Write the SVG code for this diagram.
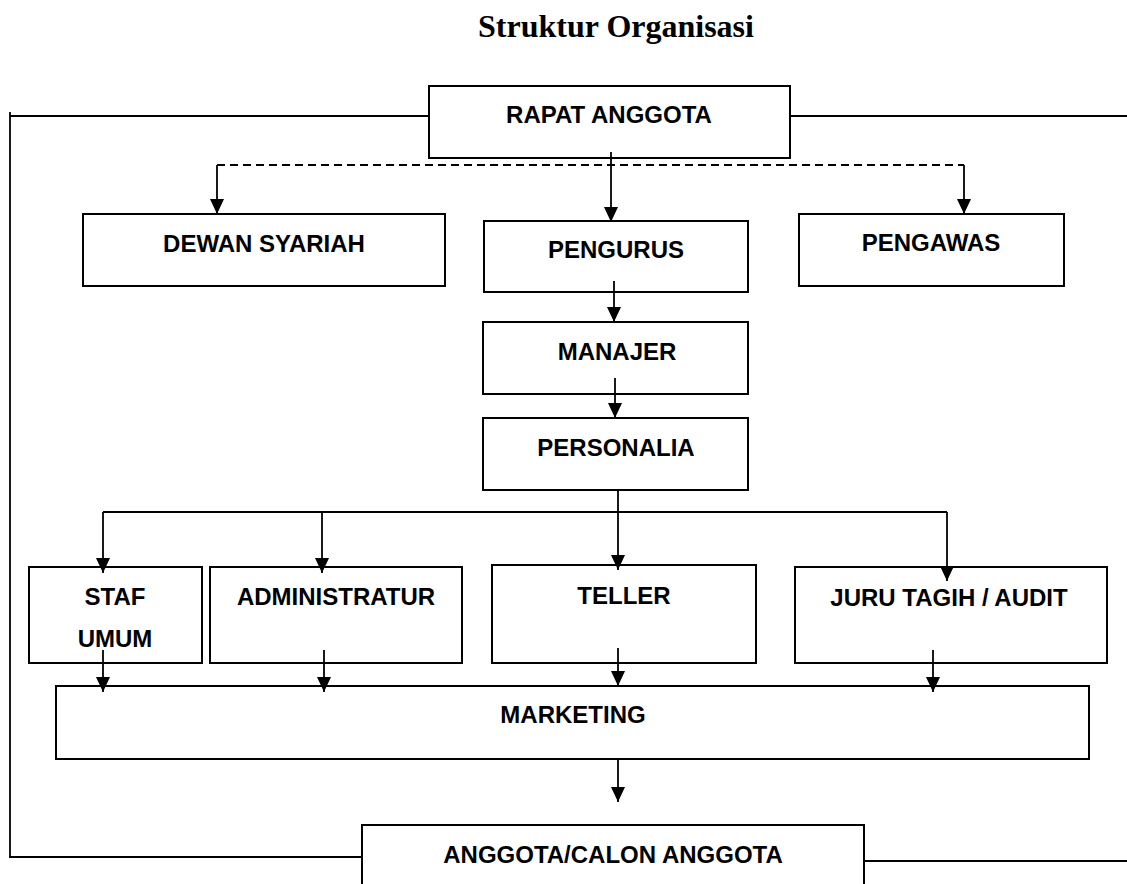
<svg xmlns="http://www.w3.org/2000/svg" width="1127" height="884" viewBox="0 0 1127 884">
<style>
.box{fill:#fff;stroke:#000;stroke-width:2}
.lbl{font-family:"Liberation Sans",Arial,sans-serif;font-weight:bold;font-size:24px;fill:#000;text-anchor:middle}
.ttl{font-family:"Liberation Serif","Times New Roman",serif;font-weight:bold;font-size:32px;fill:#000;text-anchor:middle}
.ln{fill:none;stroke:#000;stroke-width:1.8}
.arr{fill:none;stroke:#000;stroke-width:1.8;marker-end:url(#ah)}
.dash{fill:none;stroke:#000;stroke-width:1.8;stroke-dasharray:8 5}
</style>
<defs>
<marker id="ah" markerUnits="userSpaceOnUse" markerWidth="15" markerHeight="14" refX="15" refY="7" orient="auto">
<path d="M0,0 L15,7 L0,14 z" fill="#000"/>
</marker>
</defs>
<rect width="1127" height="884" fill="#fff"/>
<text class="ttl" x="616" y="37">Struktur Organisasi</text>

<g id="rapat-anggota"><rect class="box" x="429" y="86" width="361" height="72"/><text class="lbl" x="609" y="123">RAPAT ANGGOTA</text></g>
<g id="dewan-syariah"><rect class="box" x="83" y="214" width="362" height="72"/><text class="lbl" x="264" y="252">DEWAN SYARIAH</text></g>
<g id="pengurus"><rect class="box" x="484" y="221" width="264" height="71"/><text class="lbl" x="616" y="258">PENGURUS</text></g>
<g id="pengawas"><rect class="box" x="799" y="214" width="265" height="72"/><text class="lbl" x="931" y="251">PENGAWAS</text></g>
<g id="manajer"><rect class="box" x="483" y="322" width="265" height="72"/><text class="lbl" x="617" y="360">MANAJER</text></g>
<g id="personalia"><rect class="box" x="483" y="418" width="265" height="72"/><text class="lbl" x="616" y="456">PERSONALIA</text></g>
<g id="staf-umum"><rect class="box" x="29" y="567" width="173" height="96"/><text class="lbl" x="115" y="605">STAF</text><text class="lbl" x="115" y="647">UMUM</text></g>
<g id="administratur"><rect class="box" x="210" y="567" width="252" height="96"/><text class="lbl" x="336" y="605">ADMINISTRATUR</text></g>
<g id="teller"><rect class="box" x="492" y="565" width="264" height="98"/><text class="lbl" x="624" y="604">TELLER</text></g>
<g id="juru-tagih"><rect class="box" x="795" y="567" width="312" height="96"/><text class="lbl" x="949" y="606">JURU TAGIH / AUDIT</text></g>
<g id="marketing"><rect class="box" x="56" y="686" width="1033" height="73"/><text class="lbl" x="573" y="723">MARKETING</text></g>
<g id="anggota"><rect class="box" x="362" y="825" width="502" height="80"/><text class="lbl" x="613" y="863">ANGGOTA/CALON ANGGOTA</text></g>

<g id="connectors">
<line class="ln" x1="10" y1="116" x2="429" y2="116"/>
<line class="ln" x1="10" y1="112" x2="10" y2="858"/>
<line class="ln" x1="9" y1="857" x2="362" y2="857"/>
<line class="ln" x1="790" y1="116" x2="1127" y2="116"/>
<line class="ln" x1="864" y1="861" x2="1127" y2="861"/>
<line class="dash" x1="217" y1="165" x2="964" y2="165"/>
<line class="arr" x1="217" y1="165" x2="217" y2="214"/>
<line class="arr" x1="964" y1="165" x2="964" y2="214"/>
<line class="arr" x1="611" y1="152" x2="611" y2="222"/>
<line class="arr" x1="614" y1="281" x2="614" y2="322"/>
<line class="arr" x1="615" y1="378" x2="615" y2="418"/>
<line class="arr" x1="618" y1="490" x2="618" y2="570"/>
<line class="ln" x1="103" y1="512" x2="947" y2="512"/>
<line class="arr" x1="103" y1="512" x2="103" y2="573"/>
<line class="arr" x1="322" y1="512" x2="322" y2="573"/>
<line class="arr" x1="947" y1="512" x2="947" y2="581"/>
<line class="arr" x1="103" y1="650" x2="103" y2="692"/>
<line class="arr" x1="324" y1="650" x2="324" y2="692"/>
<line class="arr" x1="618" y1="648" x2="618" y2="686"/>
<line class="arr" x1="933" y1="650" x2="933" y2="692"/>
<line class="arr" x1="618" y1="760" x2="618" y2="802"/>
</g>
</svg>
